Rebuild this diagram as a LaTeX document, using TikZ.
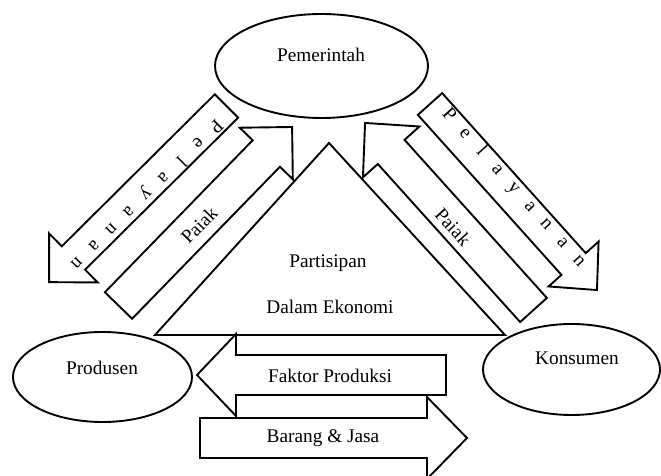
\documentclass[tikz,border=0pt]{standalone}
\usepackage{fontspec}
\setmainfont{Liberation Serif}
\usetikzlibrary{shapes.geometric}
\tikzset{diagram/.style={
  x=1pt,y=1pt,
  line width=1.9pt,
  font=\fontsize{19.3}{23}\selectfont
},
  pelaku/.style={ellipse,draw,fill=white,inner sep=0pt},
  panah/.style={draw,fill=white},
  huruf/.style={anchor=base,inner sep=0pt}
}

\begin{document}
\begin{tikzpicture}[diagram]
  \useasboundingbox (0,0) rectangle (661,476);

  \node[pelaku,minimum width=213,minimum height=104] (pemerintah) at (321.5,410) {};
  \node[pelaku,minimum width=179,minimum height=90] (produsen) at (102.5,99) {};
  \node[pelaku,minimum width=177,minimum height=91] (konsumen) at (571.5,106.5) {};
  \node (tpemerintah) at (321,421) {Pemerintah};
  \node (tprodusen) at (102,108) {Produsen};
  \node (tkonsumen) at (577,118) {Konsumen};

  \coordinate (kiri) at (155,141);
  \coordinate (puncak) at (329,333);
  \coordinate (kanan) at (505,141);
  \draw (kiri)--(puncak)--(kanan)--cycle;
  \node (partisipan) at (328,213) {Partisipan};
  \node (ekonomi) at (330,169) {Dalam Ekonomi};

  % pelayanan ke produsen
  \begin{scope}[shift={(226.5,370)},rotate=224.8,transform shape]
    \draw[panah] (0,-16.5) -- (215.7,-16.5) -- (215.7,-34.5) -- (250,0)
      -- (215.7,34.5) -- (215.7,16.5) -- (0,16.5) -- cycle;
    \foreach \ch [count=\i] in {P,e,l,a,y,a,n,a,n}
      \node[huruf] (pl\i) at ({22+24.4*(\i-1)},1.5) {\ch};
  \end{scope}

  % pajak dari produsen
  \begin{scope}[shift={(118.5,170.5)},rotate=45.8,transform shape]
    \draw[panah] (0,-19) -- (212,-19) -- (212,-37) -- (249,0)
      -- (212,37) -- (212,19) -- (0,19) -- cycle;
    \node (pajakkiri) at (114,-1.6) {Paiak};
  \end{scope}

  % pajak dari konsumen
  \begin{scope}[shift={(533.5,166)},rotate=132,transform shape]
    \draw[panah] (0,-18) -- (212.7,-18) -- (212.7,-38) -- (251.7,0)
      -- (212.7,38) -- (212.7,18) -- (0,18) -- cycle;
    \node[rotate=180] (pajakkanan) at (115.5,4.3) {Paiak};
  \end{scope}

  % pelayanan ke konsumen
  \begin{scope}[shift={(430,372)},rotate=-48.1,transform shape]
    \draw[panah] (0,-16.3) -- (215,-16.3) -- (215,-33.6) -- (250,0)
      -- (215,33.6) -- (215,16.3) -- (0,16.3) -- cycle;
    \foreach \ch [count=\i] in {P,e,l,a,y,a,n,a,n}
      \node[huruf] (pk\i) at ({21+24.4*(\i-1)},1.5) {\ch};
  \end{scope}

  % faktor produksi
  \begin{scope}[shift={(446,101)},rotate=180,transform shape]
    \draw[panah] (0,-20) -- (210,-20) -- (210,-41) -- (249,0)
      -- (210,41) -- (210,20) -- (0,20) -- cycle;
    \node[rotate=180] (faktor) at (116,1) {Faktor Produksi};
  \end{scope}

  % barang dan jasa
  \begin{scope}[shift={(200,38)}]
    \draw[panah] (0,-20) -- (227,-20) -- (227,-41) -- (267,0)
      -- (227,41) -- (227,20) -- (0,20) -- cycle;
    \node (barang) at (123,0) {Barang \& Jasa};
  \end{scope}
\end{tikzpicture}
\end{document}
